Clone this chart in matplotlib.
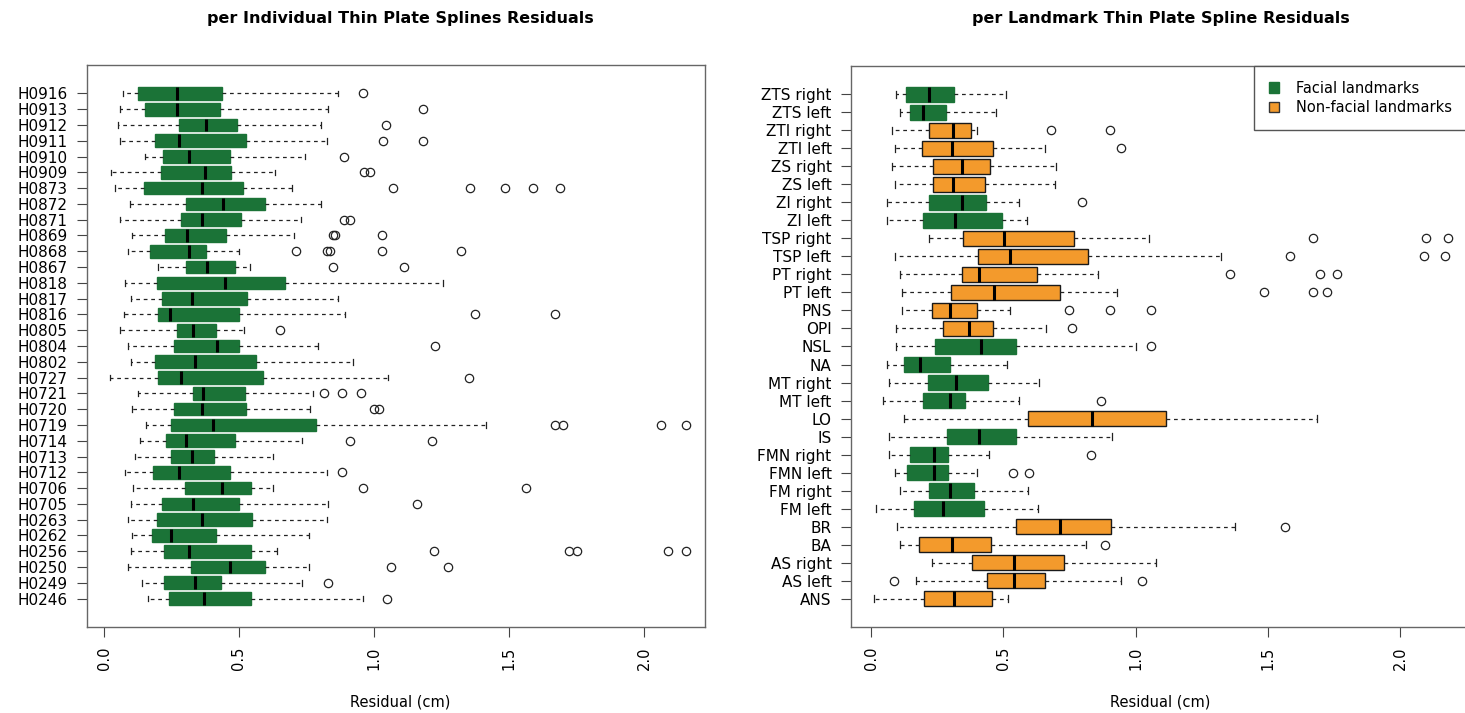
import matplotlib
matplotlib.use("Agg")
import matplotlib.pyplot as plt
from matplotlib.patches import Patch

# ---------------- data: per individual (top to bottom) ----------------
ind_labels = ["H0916", "H0913", "H0912", "H0911", "H0910", "H0909", "H0873", "H0872",
              "H0871", "H0869", "H0868", "H0867", "H0818", "H0817", "H0816", "H0805",
              "H0804", "H0802", "H0727", "H0721", "H0720", "H0719", "H0714", "H0713",
              "H0712", "H0706", "H0705", "H0263", "H0262", "H0256", "H0250", "H0249",
              "H0246"]
ind_whislo = [0.07, 0.06, 0.05, 0.06, 0.15, 0.026, 0.04, 0.095, 0.06, 0.103, 0.09, 0.2,
              0.078, 0.1, 0.075, 0.06, 0.09, 0.1, 0.023, 0.125, 0.103, 0.156, 0.134, 0.116,
              0.078, 0.108, 0.1, 0.09, 0.103, 0.1, 0.09, 0.142, 0.163]
ind_q1 = [0.125, 0.152, 0.278, 0.188, 0.219, 0.21, 0.147, 0.304, 0.287, 0.227, 0.171, 0.304,
          0.196, 0.213, 0.201, 0.27, 0.261, 0.188, 0.201, 0.329, 0.258, 0.247, 0.23, 0.249,
          0.181, 0.299, 0.213, 0.198, 0.176, 0.222, 0.321, 0.224, 0.241]
ind_med = [0.27, 0.27, 0.377, 0.278, 0.316, 0.375, 0.363, 0.44, 0.363, 0.307, 0.316, 0.38,
           0.448, 0.326, 0.244, 0.33, 0.417, 0.338, 0.287, 0.368, 0.363, 0.403, 0.304, 0.326,
           0.278, 0.436, 0.329, 0.363, 0.248, 0.316, 0.465, 0.338, 0.372]
ind_q3 = [0.436, 0.431, 0.494, 0.525, 0.465, 0.469, 0.513, 0.596, 0.508, 0.453, 0.377, 0.487,
          0.669, 0.528, 0.499, 0.414, 0.499, 0.564, 0.588, 0.521, 0.525, 0.785, 0.487, 0.406,
          0.465, 0.545, 0.499, 0.547, 0.414, 0.545, 0.596, 0.435, 0.545]
ind_whishi = [0.865, 0.83, 0.805, 0.826, 0.746, 0.632, 0.695, 0.805, 0.729, 0.703, 0.5, 0.542,
              1.256, 0.865, 0.894, 0.52, 0.792, 0.924, 1.052, 0.775, 0.763, 1.414, 0.734, 0.627,
              0.826, 0.627, 0.831, 0.826, 0.758, 0.639, 0.758, 0.732, 0.958]
ind_outliers = [[0.958], [1.18], [1.043], [1.035, 1.18], [0.89], [0.963, 0.985],
                [1.07, 1.356, 1.485, 1.589, 1.689], [], [0.89, 0.91], [0.848, 0.856, 1.03],
                [0.712, 0.826, 0.838, 1.03, 1.324], [0.848, 1.11], [], [], [1.375, 1.672],
                [0.652], [1.227], [], [1.353], [0.814, 0.882, 0.95], [1.001, 1.018],
                [1.672, 1.70, 2.064, 2.157], [0.911, 1.213], [], [0.882], [0.958, 1.562],
                [1.158], [], [], [1.222, 1.724, 1.75, 2.09, 2.157], [1.064, 1.273], [0.828],
                [1.047]]

# ---------------- data: per landmark (top to bottom) ----------------
lm_labels = ["ZTS right", "ZTS left", "ZTI right", "ZTI left", "ZS right", "ZS left",
             "ZI right", "ZI left", "TSP right", "TSP left", "PT right", "PT left", "PNS",
             "OPI", "NSL", "NA", "MT right", "MT left", "LO", "IS", "FMN right", "FMN left",
             "FM right", "FM left", "BR", "BA", "AS right", "AS left", "ANS"]
lm_facial = [True, True, False, False, False, False, True, True, False, False, False, False,
             False, False, True, True, True, True, False, True, True, True, True, True,
             False, False, False, False, False]
lm_whislo = [0.095, 0.108, 0.078, 0.09, 0.078, 0.09, 0.061, 0.061, 0.221, 0.09, 0.108, 0.117,
             0.117, 0.096, 0.096, 0.061, 0.068, 0.047, 0.125, 0.068, 0.068, 0.09, 0.108, 0.02,
             0.099, 0.108, 0.23, 0.169, 0.012]
lm_q1 = [0.134, 0.148, 0.218, 0.192, 0.235, 0.235, 0.218, 0.198, 0.347, 0.405, 0.344, 0.304,
         0.23, 0.274, 0.243, 0.125, 0.216, 0.198, 0.593, 0.286, 0.148, 0.137, 0.218, 0.164,
         0.55, 0.181, 0.382, 0.44, 0.2]
lm_med = [0.221, 0.198, 0.309, 0.305, 0.344, 0.309, 0.344, 0.317, 0.501, 0.527, 0.408, 0.466,
          0.3, 0.37, 0.417, 0.187, 0.323, 0.3, 0.837, 0.408, 0.239, 0.239, 0.3, 0.274,
          0.716, 0.305, 0.54, 0.54, 0.314]
lm_q3 = [0.312, 0.283, 0.379, 0.461, 0.449, 0.431, 0.435, 0.495, 0.767, 0.82, 0.629, 0.715,
         0.402, 0.461, 0.548, 0.3, 0.443, 0.356, 1.117, 0.548, 0.291, 0.291, 0.388, 0.428,
         0.907, 0.452, 0.728, 0.659, 0.457]
lm_whishi = [0.51, 0.471, 0.40, 0.659, 0.70, 0.694, 0.559, 0.589, 1.05, 1.323, 0.859, 0.929,
             0.527, 0.66, 1.0, 0.515, 0.637, 0.559, 1.686, 0.912, 0.445, 0.40, 0.592, 0.632,
             1.378, 0.812, 1.078, 0.947, 0.518]
lm_outliers = [[], [], [0.679, 0.903], [0.947], [], [], [0.798], [], [1.67, 2.10, 2.18],
               [1.585, 2.092, 2.171], [1.357, 1.698, 1.76], [1.485, 1.672, 1.724],
               [0.75, 0.903, 1.06], [0.76], [1.06], [], [], [0.868], [], [], [0.83],
               [0.536, 0.597], [], [], [1.567], [0.886], [], [0.087, 1.026], []]

ticks = [0.0, 0.5, 1.0, 1.5, 2.0]
tick_labels = ["0.0", "0.5", "1.0", "1.5", "2.0"]
legend_labels = ["Facial landmarks", "Non-facial landmarks"]

GREEN = "#1b7337"
ORANGE = "#f39a2c"

W, H = 1465, 713
fig = plt.figure(figsize=(W / 100, H / 100), dpi=100)
fig.patch.set_facecolor("white")


def px_axes(x0, x1, y0, y1):
    return [x0 / W, 1 - y1 / H, (x1 - x0) / W, (y1 - y0) / H]


def draw(ax, labels, lo, q1, med, q3, hi, outs, faces, edges):
    n = len(labels)
    stats = [dict(whislo=lo[i], q1=q1[i], med=med[i], q3=q3[i], whishi=hi[i],
                  fliers=outs[i], label=labels[i]) for i in range(n)]
    pos = [n - i for i in range(n)]
    bp = ax.bxp(stats, positions=pos, orientation="horizontal", widths=0.8,
                patch_artist=True, showcaps=True, capwidths=0.35,
                whiskerprops=dict(linestyle=(0, (3, 3)), linewidth=0.9, color="#222222"),
                capprops=dict(linewidth=0.9, color="#222222"),
                medianprops=dict(linewidth=2.2, color="black"),
                flierprops=dict(marker="o", markerfacecolor="none", markeredgecolor="#222222",
                                markersize=6, markeredgewidth=0.9),
                boxprops=dict(linewidth=1.0))
    for b, fc, ec in zip(bp["boxes"], faces, edges):
        b.set_facecolor(fc)
        b.set_edgecolor(ec)
    ax.set_yticks(pos)
    ax.set_yticklabels(labels)
    ax.set_ylim(0.5 - 0.04 * n - 0.3, n + 0.5 + 0.04 * n + 0.3)
    ax.set_xticks(ticks)
    ax.set_xticklabels(tick_labels, rotation=90)
    ax.tick_params(axis="both", length=7, width=0.8, pad=7, color="#444444",
                   labelsize=11)
    ax.tick_params(axis="x", labelsize=10.5)
    for s in ax.spines.values():
        s.set_color("#666666")
        s.set_linewidth(1.0)


axL = fig.add_axes(px_axes(87, 705, 65, 627))
draw(axL, ind_labels, ind_whislo, ind_q1, ind_med, ind_q3, ind_whishi, ind_outliers,
     [GREEN] * len(ind_labels), [GREEN] * len(ind_labels))
axL.set_xlim((87 - 104) / 270, (705 - 104) / 270)
axL.set_ylim(-0.8, 34.8)

axR = fig.add_axes(px_axes(851, 1467, 66, 627))
faces = [GREEN if f else ORANGE for f in lm_facial]
edges = [GREEN if f else "#1a1a1a" for f in lm_facial]
draw(axR, lm_labels, lm_whislo, lm_q1, lm_med, lm_q3, lm_whishi, lm_outliers, faces, edges)
axR.set_xlim((851 - 871) / 264.5, (1467 - 871) / 264.5)
axR.set_ylim(-0.58, 30.58)

leg = axR.legend(handles=[Patch(facecolor=GREEN, edgecolor=GREEN),
                          Patch(facecolor=ORANGE, edgecolor="#333333")],
                 labels=legend_labels, loc="upper right", bbox_to_anchor=(1.0, 1.0),
                 borderaxespad=0.0, fancybox=False, framealpha=1.0, fontsize=10.5,
                 handlelength=0.7, handleheight=0.7, handletextpad=1.2,
                 borderpad=1.0, labelspacing=0.3)
leg.get_frame().set_edgecolor("#555555")
leg.get_frame().set_linewidth(1.0)

fig.text(400 / W, 1 - 18 / H, "per Individual Thin Plate Splines Residuals",
         ha="center", va="center", fontsize=11.5, fontweight="bold")
fig.text(1161 / W, 1 - 18 / H, "per Landmark Thin Plate Spline Residuals",
         ha="center", va="center", fontsize=11.5, fontweight="bold")
fig.text(400 / W, 1 - 702 / H, "Residual (cm)", ha="center", va="center", fontsize=10.5)
fig.text(1160 / W, 1 - 702 / H, "Residual (cm)", ha="center", va="center", fontsize=10.5)

fig.savefig("out.png", dpi=100, facecolor="white")
